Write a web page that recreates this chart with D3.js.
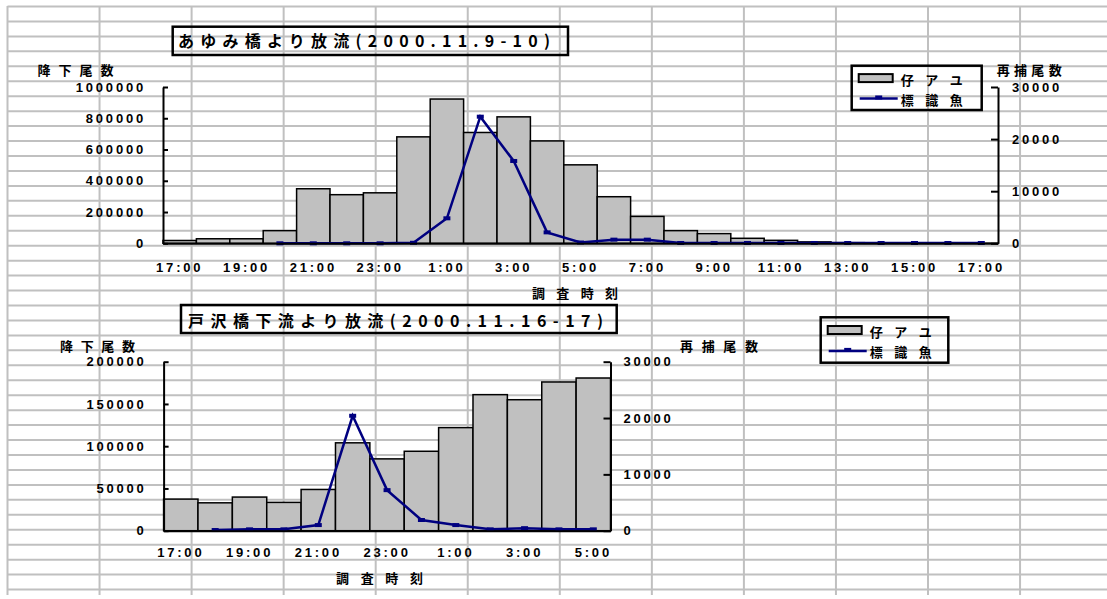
<!DOCTYPE html>
<html>
<head>
<meta charset="utf-8">
<script src="https://cdn.jsdelivr.net/npm/d3@7"></script>
<style>
  body { margin: 0; background: #fff; }
  svg { display: block; }
  text { font-family: "Noto Sans CJK JP", sans-serif; font-weight: bold; fill: #000; }
  .num { font-family: "Liberation Sans", Arial, sans-serif; font-size: 13px; letter-spacing: 2.8px; font-weight: bold; }
</style>
</head>
<body>
<svg id="chart" width="1107" height="599"></svg>
<script>
// --------------- DATA ---------------

// Chart 1: release at Ayumi bridge (hourly, 17:00 -> 17:00 next day)
const times1 = ["17:00", "18:00", "19:00", "20:00", "21:00", "22:00", "23:00", "0:00", "1:00",
    "2:00", "3:00", "4:00", "5:00", "6:00", "7:00", "8:00", "9:00", "10:00", "11:00", "12:00",
    "13:00", "14:00", "15:00", "16:00", "17:00"];
const fry1 = [18000, 29000, 29000, 81000, 349000, 311000, 323000, 681000, 923000, 709000,
    809000, 655000, 502000, 298000, 172000, 81000, 62000, 32000, 19000, 9000,
    4000, 3000, 2000, 1500, 1000];
const tagged1 = [null, null, null, 0, 0, 0, 0, 100, 4800, 24300,
    15800, 2100, 150, 700, 700, 60, 60, 60, 60, 60,
    60, 60, 60, 60, 60];
const leftTicks1 = [0, 200000, 400000, 600000, 800000, 1000000];
const title1 = "あゆみ橋より放流(2000.11.9-10)";

// Chart 2: release below Tozawa bridge (hourly, 17:00 -> 5:00)
const times2 = ["17:00", "18:00", "19:00", "20:00", "21:00", "22:00", "23:00", "0:00", "1:00",
    "2:00", "3:00", "4:00", "5:00"];
const fry2 = [37400, 33000, 39800, 33500, 48800, 104000, 85000, 94000, 122000, 161000,
    155000, 176000, 180700];
const tagged2 = [null, 120, 240, 240, 1000, 20400, 7200, 1900, 1000, 240, 450, 240, 240];
const leftTicks2 = [0, 50000, 100000, 150000, 200000];
const title2 = "戸沢橋下流より放流(2000.11.16-17)";

// shared
const rightTicks = [0, 10000, 20000, 30000];
const legendNames = ["仔アユ", "標識魚"];
const leftTitle = "降下尾数";
const rightTitle = "再捕尾数";
const xTitle = "調査時刻";

const svg = d3.select("#chart");

// --------------- SPREADSHEET GRID ---------------
const grid = svg.append("g").attr("stroke", "#c0c0c0").attr("stroke-width", 2);
for (let i = 0; i < 12; i++) {
    const gx = 7.5 + i * 92.05;
    grid.append("line").attr("x1", gx).attr("x2", gx).attr("y1", 6).attr("y2", 595);
}
for (let i = 0; i < 40; i++) {
    const gy = 6.5 + i * 14.95;
    grid.append("line").attr("x1", 7.5).attr("x2", 1107).attr("y1", gy).attr("y2", gy);
}

// text stretched to a given span (mimics the wide spaced bitmap font)
function spacedText(g, str, x0, x1, yc, size) {
    g.append("text")
        .attr("x", x0)
        .attr("y", yc)
        .attr("dominant-baseline", "central")
        .attr("font-size", size)
        .attr("textLength", x1 - x0)
        .attr("lengthAdjust", "spacing")
        .text(str);
}

function styleAxis(a) {
    a.select(".domain").attr("stroke", "#000").attr("stroke-width", 2);
    a.selectAll(".tick line").attr("stroke", "#000").attr("stroke-width", 2);
    a.selectAll(".tick text").attr("class", "num");
}

// --------------- CHART DRAWING ---------------
function drawChart(o) {
    const g = svg.append("g");

    const x = d3.scaleBand()
        .domain(d3.range(o.times.length))
        .range([o.left, o.right])
        .paddingInner(0);
    const yL = d3.scaleLinear().domain([0, o.leftMax]).range([o.bottom, o.top]);
    const yR = d3.scaleLinear().domain([0, 30000]).range([o.bottom, o.top]);
    const bw = x.bandwidth();

    // bars (left axis)
    g.selectAll(".bar")
        .data(o.fry)
        .enter()
        .append("rect")
        .attr("class", "bar")
        .attr("x", (d, i) => x(i))
        .attr("y", d => yL(d))
        .attr("width", bw)
        .attr("height", d => o.bottom - yL(d))
        .attr("fill", "#c0c0c0")
        .attr("stroke", "#000")
        .attr("stroke-width", 1.5);

    // line (right axis)
    const pts = o.tagged.map((v, i) => ({ i: i, v: v })).filter(d => d.v != null);
    const line = d3.line()
        .x(d => x(d.i) + bw / 2)
        .y(d => yR(d.v));
    g.append("path")
        .datum(pts)
        .attr("d", line)
        .attr("fill", "none")
        .attr("stroke", "#000080")
        .attr("stroke-width", 2.5);
    g.selectAll(".mark")
        .data(pts)
        .enter()
        .append("rect")
        .attr("class", "mark")
        .attr("x", d => x(d.i) + bw / 2 - 3.5)
        .attr("y", d => yR(d.v) - 2)
        .attr("width", 7)
        .attr("height", 4)
        .attr("fill", "#000080");

    // axes
    const ax = g.append("g")
        .attr("transform", `translate(0,${o.bottom})`)
        .call(d3.axisBottom(x)
            .tickValues(d3.range(0, o.times.length, 2))
            .tickFormat(i => o.times[i])
            .tickSize(0)
            .tickPadding(o.xPad));
    styleAxis(ax);

    const al = g.append("g")
        .attr("transform", `translate(${o.left},0)`)
        .call(d3.axisLeft(yL)
            .tickValues(o.leftTicks)
            .tickFormat(d3.format("d"))
            .tickSizeInner(-5)
            .tickSizeOuter(0)
            .tickPadding(17));
    styleAxis(al);

    const ar = g.append("g")
        .attr("transform", `translate(${o.right},0)`)
        .call(d3.axisRight(yR)
            .tickValues(rightTicks)
            .tickFormat(d3.format("d"))
            .tickSizeInner(-7)
            .tickSizeOuter(0)
            .tickPadding(o.rPad));
    styleAxis(ar);

    // title box
    g.append("rect")
        .attr("x", o.titleBox[0]).attr("y", o.titleBox[1])
        .attr("width", o.titleBox[2] - o.titleBox[0])
        .attr("height", o.titleBox[3] - o.titleBox[1])
        .attr("fill", "none").attr("stroke", "#000").attr("stroke-width", 2.5);
    spacedText(g, o.title, o.titleText[0], o.titleText[1], o.titleText[2], 16);

    // axis titles
    spacedText(g, leftTitle, o.leftTitle[0], o.leftTitle[1], o.leftTitle[2], 13);
    spacedText(g, rightTitle, o.rightTitle[0], o.rightTitle[1], o.rightTitle[2], 13);
    spacedText(g, xTitle, o.xTitle[0], o.xTitle[1], o.xTitle[2], 13);

    // legend
    const lb = o.legend;
    g.append("rect")
        .attr("x", lb[0]).attr("y", lb[1])
        .attr("width", lb[2] - lb[0]).attr("height", lb[3] - lb[1])
        .attr("fill", "none").attr("stroke", "#000").attr("stroke-width", 2.5);
    const row1 = lb[1] + (lb[3] - lb[1]) * 0.28;
    const row2 = lb[1] + (lb[3] - lb[1]) * 0.74;
    g.append("rect")
        .attr("x", lb[0] + 7).attr("y", row1 - 4)
        .attr("width", 34).attr("height", 8)
        .attr("fill", "#c0c0c0").attr("stroke", "#000").attr("stroke-width", 2);
    g.append("line")
        .attr("x1", lb[0] + 8).attr("x2", lb[0] + 46)
        .attr("y1", row2).attr("y2", row2)
        .attr("stroke", "#000080").attr("stroke-width", 2.5);
    g.append("rect")
        .attr("x", lb[0] + 23.5).attr("y", row2 - 3)
        .attr("width", 7).attr("height", 4)
        .attr("fill", "#000080");
    spacedText(g, legendNames[0], lb[0] + 49, lb[0] + 111, row1 + 1, 13);
    spacedText(g, legendNames[1], lb[0] + 49, lb[0] + 111, row2 + 1, 13);
}

drawChart({
    times: times1, fry: fry1, tagged: tagged1, leftTicks: leftTicks1, leftMax: 1000000,
    left: 163, right: 998, top: 87, bottom: 243.3, xPad: 19, rPad: 14,
    title: title1, titleBox: [172.7, 26.7, 568, 55], titleText: [178, 550, 40],
    leftTitle: [37.5, 113.6, 69], rightTitle: [996.7, 1061.7, 69], xTitle: [532, 618, 292],
    legend: [851.7, 65.7, 981.7, 110]
});

drawChart({
    times: times2, fry: fry2, tagged: tagged2, leftTicks: leftTicks2, leftMax: 200000,
    left: 163.6, right: 610.5, top: 361.7, bottom: 530.7, xPad: 17, rPad: 13,
    title: title2, titleBox: [181, 305, 616.7, 333], titleText: [188, 603, 319.5],
    leftTitle: [60, 135, 345.5], rightTitle: [680, 758, 345.5], xTitle: [336, 423, 577],
    legend: [820.7, 317.3, 948.3, 362.7]
});
</script>
</body>
</html>
